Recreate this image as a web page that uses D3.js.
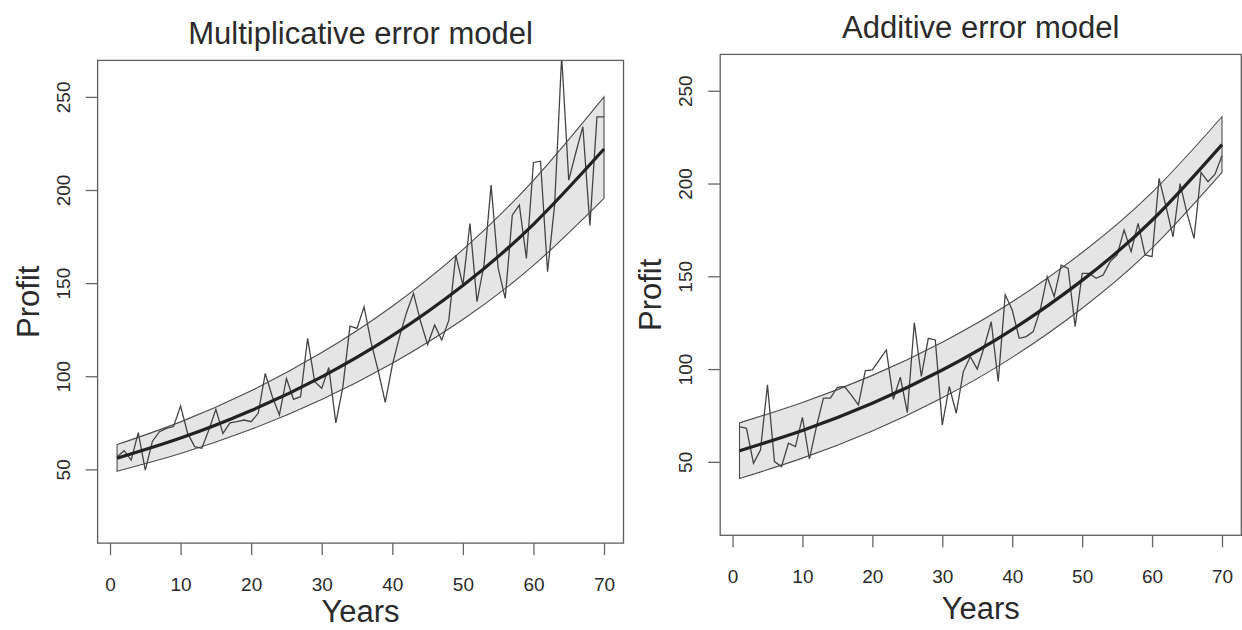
<!DOCTYPE html>
<html><head><meta charset="utf-8">
<script src="https://cdn.jsdelivr.net/npm/d3@7"></script>
<style>
body{margin:0;background:#fff}
svg{display:block}
text{font-family:"Liberation Sans",Arial,Helvetica,sans-serif;fill:#2b2b2b}
</style>
</head><body>
<svg id="c" width="1242" height="630"></svg>
<script>
// ---------------- data ----------------
const years = [1,2,3,4,5,6,7,8,9,10,11,12,13,14,15,16,17,18,19,20,21,22,23,24,25,26,27,28,29,30,
  31,32,33,34,35,36,37,38,39,40,41,42,43,44,45,46,47,48,49,50,51,52,53,54,55,56,57,58,59,60,
  61,62,63,64,65,66,67,68,69,70];

const multProfit = [56.8,60.0,55.0,69.7,49.6,65.0,70.2,72.0,73.0,84.0,
  69.3,62.2,61.3,71.1,82.2,69.3,75.0,75.6,76.5,75.6,
  80.1,101.5,89.0,79.2,98.8,87.6,89.0,120.3,97.1,93.5,
  104.7,75.0,94.4,126.9,125.7,137.3,118.0,103.0,86.0,106.0,
  121.0,134.0,144.5,129.5,117.0,127.5,119.4,130.0,165.0,148.9,
  182.0,140.0,160.0,202.6,158.0,141.8,186.5,191.9,163.3,214.8,
  215.5,156.1,192.0,272.0,205.3,220.0,234.0,181.0,239.3,239.3];

const addProfit = [69,68.1,49.2,56.4,91.5,50.1,47.4,60,58.2,74,
  51.4,69,84.3,84.3,90.2,90.6,86,80.7,99.2,99.6,
  104.9,110.3,83.7,95.6,76.5,125,96,116.6,115.7,69.9,
  90.6,76.2,98.5,106.7,100,112,125.5,93.3,140,131.8,
  116.6,117.5,120.2,131.8,149.8,139,156,154.3,122.9,151.6,
  151.6,148.9,150.7,157.9,161.5,175,163.3,178.5,161.5,160.6,
  202.8,187.5,171.3,200,183.9,170.4,206,201,205,215];

const fitYears  = [1,10,20,30,40,50,60,70];
const multFit   = [56,66.8,81.6,99.7,121.8,148.7,181.6,222];
const multUpper = [63.3,75.5,92.2,112.7,137.6,168,205.2,250];
const multLower = [49,58.5,71.5,87.5,107,130.5,159.5,195.5];
const addFit    = [56,66.9,81.6,99.5,121.3,147.8,180.2,221];
const addUpper  = [71,82,96.6,114.5,136.3,162.8,195.2,236];
const addLower  = [41,52,66.6,84.5,106.3,132.8,165.2,206];

const xTicks = [0,10,20,30,40,50,60,70];
const yTicks = [50,100,150,200,250];
const xDomain = [-1.76, 72.76];
const yDomain = [10.4, 269.6];
const titles = ["Multiplicative error model", "Additive error model"];
const xLabel = "Years", yLabel = "Profit";

// ---------------- drawing ----------------
const svg = d3.select("#c");

function drawPanel(box, title, obs, fit, up, lo, id) {
  const x = d3.scaleLinear().domain(xDomain).range([box.x0, box.x1]);
  const y = d3.scaleLinear().domain(yDomain).range([box.y1, box.y0]);

  svg.append("clipPath").attr("id", id).append("rect")
    .attr("x", box.x0).attr("y", box.y0)
    .attr("width", box.x1 - box.x0).attr("height", box.y1 - box.y0);

  const plot = svg.append("g").attr("clip-path", `url(#${id})`);

  const bandData = fitYears.map((t, i) => ({t, up: up[i], lo: lo[i]}));
  const area = d3.area().x(d => x(d.t)).y0(d => y(d.lo)).y1(d => y(d.up)).curve(d3.curveNatural);
  plot.append("path").datum(bandData).attr("d", area)
    .attr("fill", "#e5e5e5").attr("stroke", "#4d4d4d").attr("stroke-width", 1.1);

  const obsData = years.map((t, i) => ({t, v: obs[i]}));
  plot.append("path").datum(obsData)
    .attr("d", d3.line().x(d => x(d.t)).y(d => y(d.v)))
    .attr("fill", "none").attr("stroke", "#444").attr("stroke-width", 1.3)
    .attr("stroke-linejoin", "miter");

  const fitData = fitYears.map((t, i) => ({t, v: fit[i]}));
  plot.append("path").datum(fitData)
    .attr("d", d3.line().x(d => x(d.t)).y(d => y(d.v)).curve(d3.curveNatural))
    .attr("fill", "none").attr("stroke", "#222").attr("stroke-width", 3.2);

  svg.append("rect").attr("x", box.x0).attr("y", box.y0)
    .attr("width", box.x1 - box.x0).attr("height", box.y1 - box.y0)
    .attr("fill", "none").attr("stroke", "#5f5f5f").attr("stroke-width", 1.3);

  const gx = svg.append("g").attr("transform", `translate(0,${box.y1})`)
    .call(d3.axisBottom(x).tickValues(xTicks).tickSize(12).tickPadding(22.5).tickSizeOuter(0));
  gx.select(".domain").remove();
  gx.selectAll(".tick line").attr("stroke", "#666").attr("stroke-width", 1.3);
  gx.selectAll(".tick text").attr("font-size", 19).attr("fill", "#333")
    .style("font-family", "'Liberation Sans', Arial, sans-serif");

  const gy = svg.append("g").attr("transform", `translate(${box.x0},0)`)
    .call(d3.axisLeft(y).tickValues(yTicks).tickSize(12).tickSizeOuter(0));
  gy.select(".domain").remove();
  gy.selectAll(".tick line").attr("stroke", "#666").attr("stroke-width", 1.3);
  gy.selectAll(".tick text").attr("x", null).attr("dy", null)
    .attr("text-anchor", "middle").attr("transform", "translate(-28,0) rotate(-90)")
    .attr("font-size", 19).attr("fill", "#333")
    .style("font-family", "'Liberation Sans', Arial, sans-serif");

  const cx = (box.x0 + box.x1) / 2;
  svg.append("text").attr("x", cx).attr("y", box.y0 - 16.5)
    .attr("text-anchor", "middle").attr("font-size", 31).text(title);
  svg.append("text").attr("x", cx).attr("y", Math.min(box.y1 + 84, 622))
    .attr("text-anchor", "middle").attr("font-size", 31).text(xLabel);
  svg.append("text")
    .attr("transform", `translate(${box.x0 - 59},${(box.y0 + box.y1) / 2}) rotate(-90)`)
    .attr("text-anchor", "middle").attr("font-size", 31).text(yLabel);
}

drawPanel({x0: 97.6, x1: 623.5, y0: 60.4, y1: 543.1}, titles[0],
  multProfit, multFit, multUpper, multLower, "clipL");
drawPanel({x0: 720.2, x1: 1241.3, y0: 54.4, y1: 535.3}, titles[1],
  addProfit, addFit, addUpper, addLower, "clipR");
</script>
</body></html>
